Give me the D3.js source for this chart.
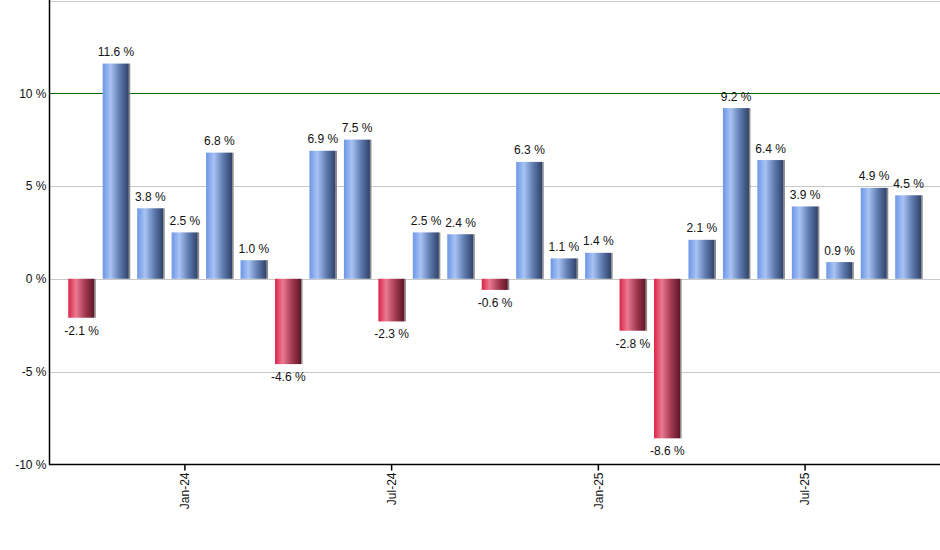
<!DOCTYPE html>
<html>
<head>
<meta charset="utf-8">
<script src="https://cdn.jsdelivr.net/npm/d3@7"></script>
<style>
    body { margin: 0; background: #fff; }
    svg { display: block; font-family: "Liberation Sans", Arial, sans-serif; }
</style>
</head>
<body>
<div id="chart"></div>
<script>
// Monthly returns, Oct-23 .. Oct-25
const months = [
    "Oct-23", "Nov-23", "Dec-23", "Jan-24", "Feb-24", "Mar-24", "Apr-24",
    "May-24", "Jun-24", "Jul-24", "Aug-24", "Sep-24", "Oct-24", "Nov-24",
    "Dec-24", "Jan-25", "Feb-25", "Mar-25", "Apr-25", "May-25", "Jun-25",
    "Jul-25", "Aug-25", "Sep-25", "Oct-25"
];
const returns = [
    -2.1, 11.6, 3.8, 2.5, 6.8, 1.0, -4.6, 6.9, 7.5, -2.3, 2.5, 2.4, -0.6,
    6.3, 1.1, 1.4, -2.8, -8.6, 2.1, 9.2, 6.4, 3.9, 0.9, 4.9, 4.5
];
const yTicks = [-10, -5, 0, 5, 10];
const xTicks = ["Jan-24", "Jul-24", "Jan-25", "Jul-25"];

const width = 940, height = 550;
const plotLeft = 50, plotRight = 940, plotTop = 0.5, plotBottom = 464.3;

const svg = d3.select("#chart").append("svg")
    .attr("width", width)
    .attr("height", height);

// Gradients for bars
const defs = svg.append("defs");
function gradient(id, stops) {
    const g = defs.append("linearGradient").attr("id", id)
        .attr("x1", "0%").attr("x2", "100%").attr("y1", "0%").attr("y2", "0%");
    stops.forEach(s => g.append("stop").attr("offset", s[0]).attr("stop-color", s[1]));
}
gradient("blueGrad", [["0%", "#6d96e6"], ["30%", "#a8c3f4"], ["65%", "#5f7bb0"], ["100%", "#2f4268"]]);
gradient("redGrad", [["0%", "#dc2448"], ["30%", "#ea7a92"], ["65%", "#a33a52"], ["100%", "#5e1526"]]);

// Scales
const x = d3.scaleBand()
    .domain(months)
    .range([plotLeft, plotRight])
    .paddingInner(0.23)
    .paddingOuter(0.53);

const y = d3.scaleLinear()
    .domain([-10, 15])
    .range([plotBottom, plotTop]);

// Gridlines
svg.append("g")
    .selectAll("line")
    .data([-5, 0, 5, 15])
    .enter()
    .append("line")
    .attr("x1", plotLeft).attr("x2", plotRight)
    .attr("y1", d => Math.round(y(d)) + 0.5)
    .attr("y2", d => Math.round(y(d)) + 0.5)
    .attr("stroke", "#c8c8c8")
    .attr("stroke-width", 1);

svg.append("line")
    .attr("x1", plotLeft).attr("x2", plotRight)
    .attr("y1", Math.round(y(10)) + 0.5)
    .attr("y2", Math.round(y(10)) + 0.5)
    .attr("stroke", "#006400")
    .attr("stroke-width", 1);

// Bars
const bars = svg.append("g");
bars.selectAll(".shadow")
    .data(returns)
    .enter()
    .append("rect")
    .attr("class", "shadow")
    .attr("x", (d, i) => x(months[i]) + x.bandwidth() - 0.5)
    .attr("y", d => y(Math.max(0, d)))
    .attr("width", 1.5)
    .attr("height", d => Math.abs(y(d) - y(0)))
    .attr("fill", "#8a8a8a");

bars.selectAll(".bar")
    .data(returns)
    .enter()
    .append("rect")
    .attr("class", "bar")
    .attr("x", (d, i) => x(months[i]))
    .attr("y", d => y(Math.max(0, d)))
    .attr("width", x.bandwidth() - 0.5)
    .attr("height", d => Math.abs(y(d) - y(0)))
    .attr("fill", d => d < 0 ? "url(#redGrad)" : "url(#blueGrad)");

// Value labels
svg.append("g")
    .selectAll("text")
    .data(returns)
    .enter()
    .append("text")
    .attr("x", (d, i) => x(months[i]) + x.bandwidth() / 2)
    .attr("y", d => d < 0 ? y(d) + 17 : y(d) - 7.5)
    .attr("text-anchor", "middle")
    .style("font-size", "12px")
    .style("fill", "#111")
    .text(d => d.toFixed(1) + " %");

// Y axis
const yAxis = svg.append("g")
    .attr("transform", `translate(${plotLeft - 0.5},0)`)
    .call(d3.axisLeft(y).tickValues(yTicks).tickSize(3).tickFormat(d => d + " %"));
yAxis.select(".domain").remove();
yAxis.selectAll(".tick line").remove();
yAxis.selectAll("text")
    .attr("x", -3)
    .style("font-size", "12px")
    .style("font-family", "Liberation Sans, Arial, sans-serif")
    .style("fill", "#111");
yAxis.append("line")
    .attr("x1", 0).attr("x2", 0)
    .attr("y1", 0).attr("y2", plotBottom + 0.5)
    .attr("stroke", "#000")
    .attr("stroke-width", 1.5);

// X axis
const xAxis = svg.append("g")
    .attr("transform", `translate(0,${Math.round(plotBottom) + 0.5})`)
    .call(d3.axisBottom(x).tickValues(xTicks).tickSize(6).tickSizeOuter(0));
xAxis.select(".domain").remove();
xAxis.append("line")
    .attr("x1", plotLeft - 1).attr("x2", plotRight)
    .attr("stroke", "#000")
    .attr("stroke-width", 1.5);
xAxis.selectAll(".tick line").attr("stroke", "#000").attr("stroke-width", 1.5);
xAxis.selectAll("text")
    .attr("transform", "rotate(-90)")
    .attr("x", -8)
    .attr("y", 0)
    .attr("dy", "0.35em")
    .style("text-anchor", "end")
    .style("font-size", "12px")
    .style("font-family", "Liberation Sans, Arial, sans-serif")
    .style("fill", "#111");
</script>
</body>
</html>
